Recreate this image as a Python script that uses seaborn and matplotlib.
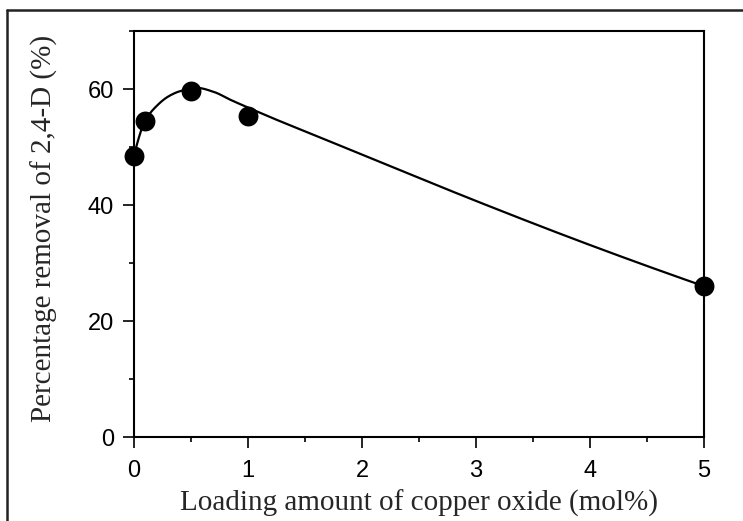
import numpy as np
import pandas as pd
import matplotlib
matplotlib.use("Agg")
import matplotlib.pyplot as plt
import seaborn as sns
from matplotlib.lines import Line2D
from matplotlib.ticker import MultipleLocator

# measured data points
loading = [0.0, 0.1, 0.5, 1.0, 5.0]
removal = [48.5, 54.5, 59.6, 55.4, 26.0]

# guide curve (it does not pass through every point)
fit_x = [0.0, 0.1, 0.2, 0.3, 0.4, 0.55, 0.7, 0.85, 1.0, 1.25, 1.5, 2.0, 3.0, 4.0, 5.0]
fit_y = [48.5, 54.6, 57.1, 58.7, 59.6, 60.2, 59.5, 58.1, 56.8, 54.7, 52.7, 48.7, 40.7, 33.1, 26.0]

xticks = [0, 1, 2, 3, 4, 5]
yticks = [0, 20, 40, 60]
xlabel = "Loading amount of copper oxide (mol%)"
ylabel = "Percentage removal of 2,4-D (%)"


def pchip(x, y, xs):
    """Monotone piecewise cubic (Fritsch-Carlson) drawn through the curve points."""
    x = np.asarray(x, float); y = np.asarray(y, float)
    h = np.diff(x); d = np.diff(y) / h
    n = len(x)
    m = np.zeros(n)
    for k in range(1, n - 1):
        if d[k - 1] * d[k] > 0:
            w1 = 2 * h[k] + h[k - 1]; w2 = h[k] + 2 * h[k - 1]
            m[k] = (w1 + w2) / (w1 / d[k - 1] + w2 / d[k])
    def end(h0, h1, d0, d1):
        v = ((2 * h0 + h1) * d0 - h0 * d1) / (h0 + h1)
        if np.sign(v) != np.sign(d0):
            return 0.0
        if np.sign(d0) != np.sign(d1) and abs(v) > 3 * abs(d0):
            return 3 * d0
        return v
    m[0] = end(h[0], h[1], d[0], d[1])
    m[-1] = end(h[-1], h[-2], d[-1], d[-2])
    out = np.empty_like(xs)
    for j, xv in enumerate(xs):
        i = int(np.clip(np.searchsorted(x, xv, side="right") - 1, 0, n - 2))
        t = (xv - x[i]) / h[i]
        h00 = 2 * t ** 3 - 3 * t ** 2 + 1
        h10 = t ** 3 - 2 * t ** 2 + t
        h01 = -2 * t ** 3 + 3 * t ** 2
        h11 = t ** 3 - t ** 2
        out[j] = h00 * y[i] + h10 * h[i] * m[i] + h01 * y[i + 1] + h11 * h[i] * m[i + 1]
    return out


df = pd.DataFrame({"x": loading, "y": removal})
xs = np.linspace(fit_x[0], fit_x[-1], 800)
curve = pd.DataFrame({"x": xs, "y": pchip(fit_x, fit_y, xs)})

sns.set_style("ticks")
plt.rcParams.update({
    "font.family": ["Liberation Sans", "DejaVu Sans"],
    "axes.linewidth": 1.5,
    "xtick.major.width": 1.2, "ytick.major.width": 1.2,
    "xtick.minor.width": 1.2, "ytick.minor.width": 1.2,
    "xtick.major.size": 8, "ytick.major.size": 8,
    "xtick.minor.size": 3.6, "ytick.minor.size": 3.6,
    "xtick.direction": "out", "ytick.direction": "out",
    "xtick.color": "black", "ytick.color": "black",
    "axes.edgecolor": "black",
})

fig = plt.figure(figsize=(7.43, 5.21), dpi=100)
ax = fig.add_axes([134 / 743, 1 - 437 / 521, (704 - 134) / 743, (437 - 31) / 521])

sns.lineplot(data=curve, x="x", y="y", ax=ax, color="black", linewidth=1.6,
             zorder=2, clip_on=False)
sns.scatterplot(data=df, x="x", y="y", ax=ax, color="black", s=205,
                edgecolor="black", linewidth=0, zorder=3, clip_on=False)

ax.set_xlim(0, 5)
ax.set_ylim(0, 70)
ax.set_xticks(xticks)
ax.set_yticks(yticks)
ax.xaxis.set_minor_locator(MultipleLocator(0.5))
ax.yaxis.set_minor_locator(MultipleLocator(10))
ax.tick_params(axis="both", which="major", labelsize=17)
ax.tick_params(axis="x", which="major", pad=8.5)
ax.tick_params(axis="y", which="major", pad=6.5)
for s in ax.spines.values():
    s.set_visible(True)
    s.set_linewidth(1.5)

ax.set_xlabel(xlabel, family=["Liberation Serif"], fontsize=21)
ax.set_ylabel(ylabel, family=["Liberation Serif"], fontsize=21)
ax.xaxis.set_label_coords(0.5, -(490 - 437) / 406)
ax.yaxis.set_label_coords(-(134 - 58) / 570, (437 - 228) / 406)

# outer frame
fig.add_artist(Line2D([7 / 743, 7 / 743], [0, 1 - 10 / 521], transform=fig.transFigure,
                      color="#222222", linewidth=1.8))
fig.add_artist(Line2D([7 / 743, 1], [1 - 10 / 521, 1 - 10 / 521], transform=fig.transFigure,
                      color="#222222", linewidth=1.8))

fig.savefig("out.png", dpi=100)
